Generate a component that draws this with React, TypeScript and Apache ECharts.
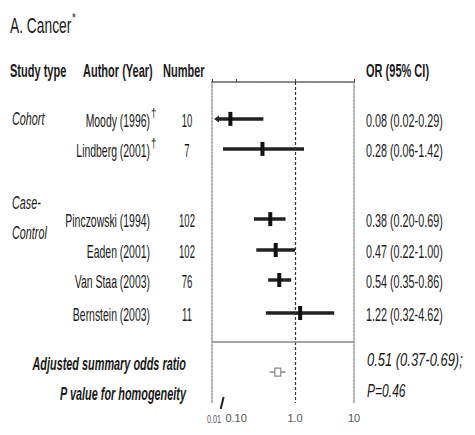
import React, { useEffect, useRef } from "react";
import * as echarts from "echarts";

const titleText = "A. Cancer";
const titleMark = "*";
const headers = ["Study type", "Author (Year)", "Number", "OR (95% CI)"];
const authors = ["Moody (1996)", "Lindberg (2001)", "Pinczowski (1994)", "Eaden (2001)", "Van Staa (2003)", "Bernstein (2003)"];
const daggers = [true, true, false, false, false, false];
const numbers = ["10", "7", "102", "102", "76", "11"];
const orValues = [0.08, 0.28, 0.38, 0.47, 0.54, 1.22];
const ciLow = [0.02, 0.06, 0.2, 0.22, 0.35, 0.32];
const ciHigh = [0.29, 1.42, 0.69, 1.0, 0.86, 4.62];
const ciLabels = ["0.08 (0.02-0.29)", "0.28 (0.06-1.42)", "0.38 (0.20-0.69)", "0.47 (0.22-1.00)", "0.54 (0.35-0.86)", "1.22 (0.32-4.62)"];
const rowPositions = [1.23, 2.23, 4.57, 5.6, 6.6, 7.7];
const groupLabels = ["Cohort", "Case-", "Control"];
const groupPositions = [1.23, 4.03, 5.03];
const summaryOR = [0.51];
const summaryLow = [0.37];
const summaryHigh = [0.69];
const summaryPos = [9.67];
const summaryLabels = ["Adjusted summary odds ratio", "P value for homogeneity"];
const summaryValues = ["0.51 (0.37-0.69);", "P=0.46"];
const summaryTextPos = [9.37, 10.37];
const separatorPos = 8.67;
const xTicks = [0.1, 1, 10];
const xTickLabels = ["0.10", "1.0", "10"];
const breakLabel = "0.01";
const breakValue = 0.058;
const xMin = 0.039;
const xMax = 10;
const yMax = 10.7;

const FONT = '"Liberation Sans", Arial, sans-serif';
const TXT = "#1a1a1a";

const text = (x: number, y: number, t: string, opts: any = {}, sx = 0.58) => ({
  type: "text",
  x,
  y,
  scaleX: sx,
  style: {
    text: t,
    fill: TXT,
    fontFamily: FONT,
    fontSize: 18,
    textAlign: "left",
    textVerticalAlign: "middle",
    ...opts,
  },
});

export default function App() {
  const ref = useRef<HTMLDivElement>(null);
  useEffect(() => {
    if (!ref.current) return;
    const chart = echarts.init(ref.current, undefined, { renderer: "svg" });

    const studyData = orValues.map((v, i) => [v, ciLow[i], ciHigh[i], rowPositions[i]]);
    const groupData = groupPositions.map((p) => [1, p]);
    const summaryData = summaryOR.map((v, i) => [v, summaryLow[i], summaryHigh[i], summaryPos[i]]);
    const summaryTextData = summaryTextPos.map((p) => [1, p]);

    const option: any = {
      animation: false,
      grid: { left: 212, top: 82, width: 142, height: 321 },
      xAxis: [
        {
          type: "log",
          min: xMin,
          max: xMax,
          position: "bottom",
          axisLine: { show: true, lineStyle: { color: "#444", width: 1.5 } },
          axisTick: { show: true, inside: true, length: 3, lineStyle: { color: "#444" } },
          splitLine: { show: false },
          axisLabel: {
            show: true,
            margin: 9,
            fontSize: 11,
            fontFamily: FONT,
            color: "#555",
            formatter: (v: number) => {
              let best = 0;
              xTicks.forEach((t, i) => {
                if (Math.abs(Math.log10(t) - Math.log10(v)) < Math.abs(Math.log10(xTicks[best]) - Math.log10(v))) best = i;
              });
              return Math.abs(Math.log10(xTicks[best]) - Math.log10(v)) < 0.05 ? xTickLabels[best] : "";
            },
          },
        },
        {
          type: "log",
          min: xMin,
          max: xMax,
          position: "top",
          axisLine: { show: true, lineStyle: { color: "#999", type: [2, 1.5], width: 1.5 } },
          axisTick: { show: false },
          axisLabel: { show: false },
          splitLine: { show: false },
        },
      ],
      yAxis: [
        {
          type: "value",
          inverse: true,
          min: 0,
          max: yMax,
          position: "left",
          axisLine: { show: true, lineStyle: { color: "#999", type: [2, 1.5], width: 1.5 } },
          axisTick: { show: false },
          axisLabel: { show: false },
          splitLine: { show: false },
        },
        {
          type: "value",
          inverse: true,
          min: 0,
          max: yMax,
          position: "right",
          axisLine: { show: true, lineStyle: { color: "#999", type: [2, 1.5], width: 1.5 } },
          axisTick: { show: false },
          axisLabel: { show: false },
          splitLine: { show: false },
        },
      ],
      graphic: [
        text(10, 25, titleText, { fontSize: 22 }, 0.627),
        text(72, 18, titleMark, { fontSize: 12 }, 0.8),
        text(10, 70, headers[0], { fontWeight: "bold" }, 0.613),
        text(83, 70, headers[1], { fontWeight: "bold" }, 0.613),
        text(163, 70, headers[2], { fontWeight: "bold" }, 0.613),
        text(366, 70, headers[3], { fontWeight: "bold" }, 0.613),
      ],
      series: [
        {
          type: "custom",
          name: "studies",
          xAxisIndex: 0,
          yAxisIndex: 0,
          encode: { x: [0, 1, 2], y: 3 },
          data: studyData,
          clip: false,
          renderItem: (params: any, api: any) => {
            const i = params.dataIndex;
            const left = params.coordSys.x;
            const right = params.coordSys.x + params.coordSys.width;
            const y = api.coord([1, api.value(3)])[1];
            const est = api.coord([api.value(0), api.value(3)])[0];
            let lo = api.coord([api.value(1), api.value(3)])[0];
            let hi = api.coord([api.value(2), api.value(3)])[0];
            const clippedLo = lo < left;
            if (clippedLo) lo = left + 5;
            if (hi > right) hi = right;
            const children: any[] = [
              { type: "line", shape: { x1: lo, y1: y, x2: hi, y2: y }, style: { stroke: "#222", lineWidth: 3.5 } },
              { type: "rect", shape: { x: est - 2, y: y - 7, width: 4, height: 14 }, style: { fill: "#111" } },
              text(150, y + 2, authors[i], { textAlign: "right" }),
              text(187, y + 2, numbers[i], { textAlign: "center" }, 0.53),
              text(366, y + 2, ciLabels[i], {}, 0.6),
            ];
            if (clippedLo) {
              children.push({
                type: "polygon",
                shape: { points: [[left + 2, y], [left + 7, y - 3.5], [left + 7, y + 3.5]] },
                style: { fill: "#222" },
              });
            }
            if (daggers[i]) children.push(text(151, y - 6, "†", { fontSize: 12 }, 0.8));
            return { type: "group", children };
          },
          markLine: {
            silent: true,
            symbol: "none",
            label: { show: false },
            data: [
              { xAxis: 1, lineStyle: { color: "#333", type: [3, 2], width: 1.2 } },
              { yAxis: separatorPos, lineStyle: { color: "#888", type: "solid", width: 1.5 } },
            ],
          },
        },
        {
          type: "custom",
          name: "groups",
          encode: { x: 0, y: 1 },
          data: groupData,
          clip: false,
          renderItem: (params: any, api: any) => {
            const y = api.coord([1, api.value(1)])[1];
            return text(12, y, groupLabels[params.dataIndex], { fontStyle: "italic" }, 0.6);
          },
        },
        {
          type: "custom",
          name: "summary",
          encode: { x: [0, 1, 2], y: 3 },
          data: summaryData,
          clip: false,
          renderItem: (params: any, api: any) => {
            const y = api.coord([1, api.value(3)])[1];
            const est = api.coord([api.value(0), api.value(3)])[0];
            const lo = api.coord([api.value(1), api.value(3)])[0];
            const hi = api.coord([api.value(2), api.value(3)])[0];
            return {
              type: "group",
              children: [
                { type: "line", shape: { x1: lo, y1: y, x2: est - 3, y2: y }, style: { stroke: "#888", lineWidth: 1.5 } },
                { type: "line", shape: { x1: est + 3, y1: y, x2: hi, y2: y }, style: { stroke: "#888", lineWidth: 1.5 } },
                { type: "rect", shape: { x: est - 3, y: y - 4, width: 6, height: 8 }, style: { fill: "#fff", stroke: "#888", lineWidth: 1.2 } },
              ],
            };
          },
        },
        {
          type: "custom",
          name: "summaryText",
          encode: { x: 0, y: 1 },
          data: summaryTextData,
          clip: false,
          renderItem: (params: any, api: any) => {
            const i = params.dataIndex;
            const y = api.coord([1, api.value(1)])[1];
            return {
              type: "group",
              children: [
                text(186, y + 1, summaryLabels[i], { textAlign: "right", fontWeight: "bold", fontStyle: "italic" }, 0.605),
                text(367, y - 3, summaryValues[i], { fontStyle: "italic" }, i === 0 ? 0.72 : 0.67),
              ],
            };
          },
        },
        {
          type: "custom",
          name: "axisBreak",
          encode: { x: 0, y: 1 },
          data: [[breakValue, yMax]],
          clip: false,
          renderItem: (params: any, api: any) => {
            const p = api.coord([api.value(0), api.value(1)]);
            const left = params.coordSys.x;
            return {
              type: "group",
              children: [
                { type: "line", shape: { x1: p[0] - 1.5, y1: p[1] + 6, x2: p[0] + 1.5, y2: p[1] - 6 }, style: { stroke: "#222", lineWidth: 2 } },
                text(left + 2, p[1] + 16, breakLabel, { textAlign: "center", fontSize: 11, fill: "#555" }, 0.66),
              ],
            };
          },
        },
      ],
    };
    chart.setOption(option);
    return () => chart.dispose();
  }, []);
  return <div ref={ref} style={{ position: "fixed", left: 0, top: 0, width: 475, height: 435, background: "#fff" }} />;
}
